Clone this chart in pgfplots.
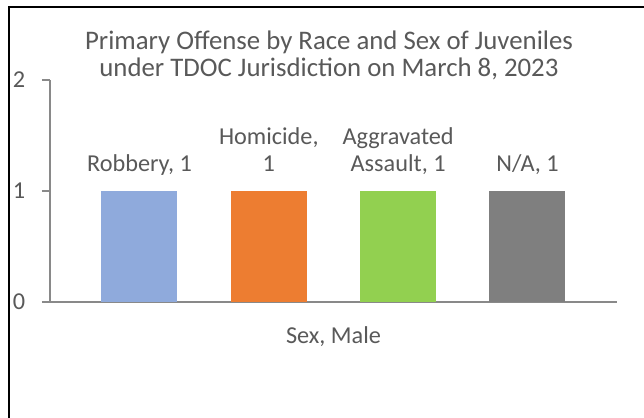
\documentclass[border=0pt]{standalone}
\usepackage{fontspec}
\setmainfont{Carlito}
\usepackage{pgfplots}
\pgfplotsset{compat=1.18}
\definecolor{txt}{HTML}{595959}
\definecolor{axc}{HTML}{898989}
\definecolor{cblue}{HTML}{8FAADC}
\definecolor{corange}{HTML}{ED7D31}
\definecolor{cgreen}{HTML}{92D050}
\definecolor{cgray}{HTML}{7F7F7F}
\newcommand{\cf}{\fontsize{18.2}{20.25}\selectfont}
\newcommand{\tf}{\fontsize{20.1}{20.25}\selectfont}
\begin{document}
\begin{tikzpicture}
\useasboundingbox (0,0) rectangle (483pt,313.5pt);
\fill[white] (0,0) rectangle (483pt,313.5pt);
\draw[black, line width=1.6pt] (6.75pt,-2pt) -- (6.75pt,308.25pt) -- (486pt,308.25pt);
\begin{axis}[
  at={(37.5pt,87pt)}, anchor=south west,
  scale only axis, width=425.25pt, height=166.5pt,
  xmin=-1, xmax=1, ymin=0, ymax=2,
  ybar=40pt, bar width=57pt,
  axis x line*=bottom, axis y line*=left,
  axis line style={axc, line width=1pt, -},
  ytick={0,1,2}, xtick={0}, xticklabels={Sex{,} Male},
  x tick style={draw=none}, y tick style={axc, line width=1pt},
  tick align=outside, major tick length=6pt,
  tick label style={font=\cf, text=txt},
  /pgf/number format/assume math mode=true,
  yticklabel style={xshift=-9pt},
  xticklabel style={yshift=-8.75pt},
  title={Primary Offense by Race and Sex of Juveniles\\under TDOC Jurisdiction on March 8, 2023},
  title style={at={(0.5,1)}, anchor=base, yshift=-3.5pt, xshift=-3.4pt, align=center, font=\tf, text=txt},
  every node near coord/.append style={anchor=south, inner sep=0pt, yshift=8.2pt, align=center, font=\cf, text=txt},
  clip=false,
]
\addplot[fill=cblue, draw=none, nodes near coords={Robbery, 1\strut}] coordinates {(0,1)};
\addplot[fill=corange, draw=none, nodes near coords={Homicide,\strut\\1\strut}] coordinates {(0,1)};
\addplot[fill=cgreen, draw=none, nodes near coords={Aggravated\strut\\Assault, 1\strut}] coordinates {(0,1)};
\addplot[fill=cgray, draw=none, nodes near coords={N/A, 1\strut}] coordinates {(0,1)};
\end{axis}
\end{tikzpicture}
\end{document}
